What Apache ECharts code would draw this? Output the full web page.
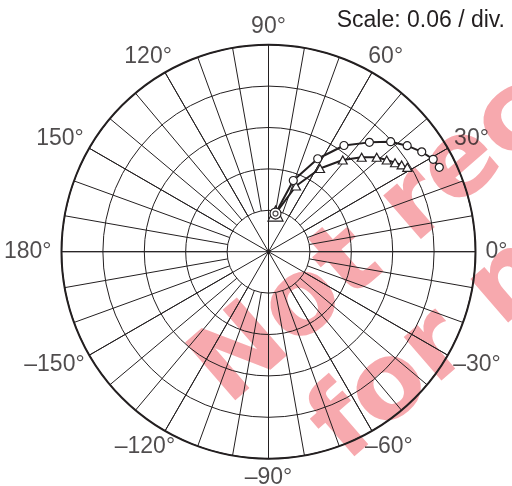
<!DOCTYPE html>
<html>
<head>
<meta charset="utf-8">
<script src="https://cdn.jsdelivr.net/npm/echarts@6/dist/echarts.min.js"></script>
<style>
html,body{margin:0;padding:0;background:#fff;}
#c{width:512px;height:486px;}
</style>
</head>
<body>
<div id="c"></div>
<script>
// ---- data ----
const radiusMax = 0.30;
const radiusStep = 0.06;
const angleTicks = [0, 30, 60, 90, 120, 150, 180, 210, 240, 270, 300, 330];
const angleTickLabels = ['0°', '30°', '60°', '90°', '120°', '150°', '180°', '–150°', '–120°', '–90°', '–60°', '–30°'];
const circleR = [0.0562, 0.1093, 0.1524, 0.1888, 0.2156, 0.2382, 0.2530, 0.2651, 0.2737, 0.2761];
const circleA = [79.6, 70.8, 62.1, 54.6, 47.3, 42.0, 37.4, 33.1, 29.3, 26.3];
const triR = [0.0562, 0.1032, 0.1418, 0.1710, 0.1923, 0.2081, 0.2168, 0.2241, 0.2303, 0.2354];
const triA = [79.6, 67.3, 58.2, 51.0, 45.4, 41.1, 37.8, 35.1, 33.1, 31.3];
const scaleText = 'Scale: 0.06 / div.';
const watermarkLines = ['Not recommended', 'for new designs'];

// ---- styling / layout ----
const INK = '#231f20';
const FONT = '"Liberation Sans", Arial, Helvetica, sans-serif';
const LABEL_SIZE = 23;
const CX = 268.5, CY = 251.7, R = 207;

const mc = document.createElement('canvas').getContext('2d');
mc.font = LABEL_SIZE + 'px ' + FONT;
function labelOffset(a, text) {
  const t = a * Math.PI / 180;
  const c = Math.cos(t), s = Math.sin(t);
  const w = mc.measureText(text).width, h = 17, g = 10;
  return [c * (g + w / 2), -s * (g + h / 2)];
}

const deg = Math.PI / 180;
const WM_ROT = 41 * deg;
const WM_FONT = 'bold 105px "DejaVu Sans", Verdana, sans-serif';
const WM_COLOR = '#f7a9ae';

const chart = echarts.init(document.getElementById('c'), null, {renderer: 'canvas'});
const option = {
  animation: false,
  title: {
    text: scaleText, right: 2, top: 4,
    textStyle: {fontSize: 23, fontWeight: 'normal', color: INK, fontFamily: FONT}
  },
  graphic: {
    zlevel: -1, z: -100,
    elements: [
      {type: 'text', x: 210, y: 386, rotation: WM_ROT, zlevel: -1, z: -100, silent: true,
       style: {text: watermarkLines[0], x: 0, y: 0, align: 'left', verticalAlign: 'middle',
               font: WM_FONT, fill: WM_COLOR}},
      {type: 'text', x: 328, y: 443, rotation: WM_ROT, zlevel: -1, z: -100, silent: true,
       style: {text: watermarkLines[1], x: 0, y: 0, align: 'left', verticalAlign: 'middle',
               font: WM_FONT, fill: WM_COLOR}}
    ]
  },
  polar: [
    {center: [CX, CY], radius: [0, R]},
    {center: [CX, CY], radius: [R * radiusStep / radiusMax, R]}
  ],
  angleAxis: [
    {polarIndex: 0, type: 'value', min: 0, max: 360, interval: 30, startAngle: 0, clockwise: false,
     axisLine: {show: true, lineStyle: {color: INK, width: 2}},
     axisTick: {show: false}, axisLabel: {show: false},
     splitLine: {show: true, lineStyle: {color: INK, width: 1}}},
    {polarIndex: 1, type: 'value', min: 0, max: 360, interval: 10, startAngle: 0, clockwise: false,
     axisLine: {show: false}, axisTick: {show: false}, axisLabel: {show: false},
     splitLine: {show: true, lineStyle: {color: INK, width: 1}}}
  ],
  radiusAxis: [
    {polarIndex: 0, type: 'value', min: 0, max: radiusMax, interval: radiusStep,
     axisLine: {show: false}, axisTick: {show: false}, axisLabel: {show: false},
     splitLine: {show: true, lineStyle: {color: INK, width: 1}}},
    {polarIndex: 1, type: 'value', min: 0, max: 1,
     axisLine: {show: false}, axisTick: {show: false}, axisLabel: {show: false},
     splitLine: {show: false}}
  ],
  series: [
    {
      name: 'labels', type: 'scatter', coordinateSystem: 'polar', polarIndex: 0,
      symbolSize: 0, silent: true, z: 1,
      data: angleTicks.map((a, i) => ({value: [radiusMax, a], label: {offset: labelOffset(a, angleTickLabels[i])}})),
      label: {show: true, position: 'inside', formatter: p => angleTickLabels[p.dataIndex],
              fontSize: LABEL_SIZE, color: INK, fontFamily: FONT, align: 'center', verticalAlign: 'middle'}
    },
    {
      name: 'center', type: 'scatter', coordinateSystem: 'polar', polarIndex: 0,
      data: [[0, 0]], symbol: 'circle', symbolSize: 4, itemStyle: {color: INK}, z: 3
    },
    {
      name: 'triangles', type: 'line', coordinateSystem: 'polar', polarIndex: 0,
      data: triR.map((r, i) => [r, triA[i]]),
      symbol: 'triangle',
      symbolSize: (v, p) => p.dataIndex === 0 ? 15 : [9, 8],
      showAllSymbol: true,
      lineStyle: {color: INK, width: 2},
      itemStyle: {color: '#fff', borderColor: INK, borderWidth: 1.2},
      z: 4
    },
    {
      name: 'circles', type: 'line', coordinateSystem: 'polar', polarIndex: 0,
      data: circleR.map((r, i) => [r, circleA[i]]),
      symbol: 'circle',
      symbolSize: (v, p) => p.dataIndex === 0 ? 11 : 8,
      showAllSymbol: true,
      lineStyle: {color: INK, width: 2},
      itemStyle: {color: '#fff', borderColor: INK, borderWidth: 1.2},
      z: 5
    },
    {
      name: 'start', type: 'scatter', coordinateSystem: 'polar', polarIndex: 0,
      data: [[circleR[0], circleA[0]]], symbol: 'circle', symbolSize: 5,
      itemStyle: {color: '#fff', borderColor: INK, borderWidth: 1.2}, z: 6
    }
  ]
};
chart.setOption(option);
</script>
</body>
</html>
